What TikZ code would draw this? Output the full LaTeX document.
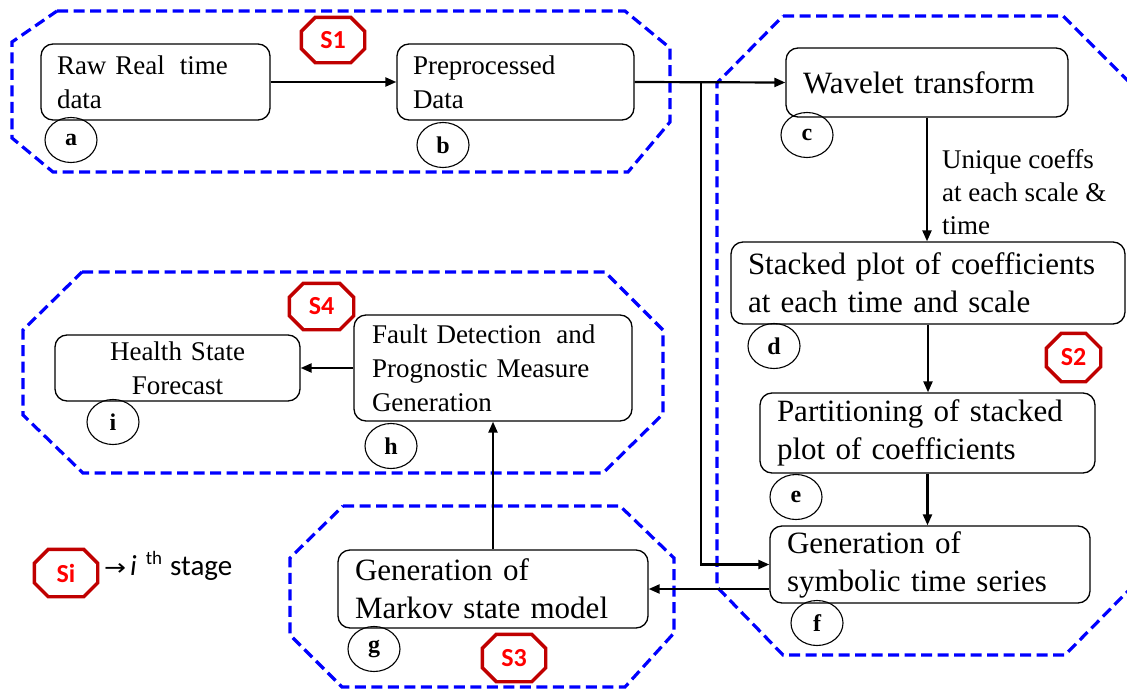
\documentclass[tikz,border=0pt]{standalone}
\usepackage{fontspec}
\usepackage{graphicx}
\setmainfont{Liberation Serif}
\newfontfamily\calibri{Carlito}
\newfontfamily\arrowfont{DejaVu Sans}
\usetikzlibrary{arrows.meta,calc,shapes.geometric}

\definecolor{groupblue}{RGB}{0,0,255}
\definecolor{badgered}{RGB}{192,0,0}
\definecolor{badgetext}{RGB}{255,0,0}

% stage badge: name, x, y, width, height, label, chamfer
\newcommand\stagebadge[7]{%
  \node[badge, minimum width=#4pt, minimum height=#5pt] (#1) at (#2,#3) {#6};
  \draw[badgeline]
    ($(#1.north west)+(#7,0)$) -- ($(#1.north east)+(-#7,0)$) --
    ($(#1.north east)+(0,#7)$) -- ($(#1.south east)+(0,-#7)$) --
    ($(#1.south east)+(-#7,0)$) -- ($(#1.south west)+(#7,0)$) --
    ($(#1.south west)+(0,-#7)$) -- ($(#1.north west)+(0,#7)$) -- cycle;
}

\begin{document}
\begin{tikzpicture}[x=1pt,y=-1pt,
  group/.style={draw=groupblue, line width=3.2pt, dash pattern=on 11pt off 5.5pt, line join=miter},
  box/.style={draw, line width=1.3pt, rounded corners=12pt, inner ysep=0pt, align=left},
  smalltext/.style={font=\fontsize{27}{34}\selectfont},
  bigtext/.style={font=\fontsize{31}{38}\selectfont},
  tag/.style={draw, ellipse, line width=1.1pt, minimum width=52pt, minimum height=45pt,
              inner sep=0pt, font=\fontsize{24}{24}\selectfont\bfseries},
  flow/.style={line width=2.2pt, -{Triangle[length=11pt,width=9pt]}},
  badge/.style={font=\calibri\bfseries\fontsize{26}{26}\selectfont, text=badgetext, inner sep=0pt},
  badgeline/.style={draw=badgered, line width=3.4pt, line join=miter},
]
\useasboundingbox (0,0) rectangle (1127,688);

% stage groups
\draw[group] (57,11) -- (625,11) -- (670,48) -- (670,122) -- (628,172) -- (53,172) -- (12,138) -- (12,42) -- cycle;
\draw[group] (783,16) -- (1063,16) -- (1129,82) -- (1129,590) -- (1065,655) -- (783,655) -- (717,587) -- (717,83) -- cycle;
\draw[group] (82,272) -- (605,272) -- (663,330) -- (663,414) -- (603,473) -- (83,473) -- (23,415) -- (23,330) -- cycle;
\draw[group] (343,506) -- (620,506) -- (674,558) -- (674,633) -- (625,687) -- (342,687) -- (290,635) -- (290,558) -- cycle;

% process boxes
\node[box, smalltext, minimum height=76pt, text width=197pt, inner xsep=16pt] (a) at (155.5,82) {Raw Real\hspace{6pt} time\\data};
\node[box, smalltext, minimum height=76pt, text width=205pt, inner xsep=16pt] (b) at (515.5,82) {Preprocessed\\Data};
\node[box, bigtext, minimum height=69pt, text width=248pt, inner xsep=17pt] (c) at (927,82.5) {Wavelet transform};
\node[box, bigtext, minimum height=82pt, text width=360pt, inner xsep=17pt] (d) at (928,283) {Stacked plot of coefficients\\at each time and scale};
\node[box, bigtext, minimum height=80pt, text width=301pt, inner xsep=17pt] (e) at (927.5,433) {Partitioning of stacked\\plot of coefficients};
\node[box, bigtext, minimum height=77pt, text width=286pt, inner xsep=17pt] (f) at (930,564.5) {Generation of\\symbolic time series};
\node[box, bigtext, minimum height=78pt, text width=276pt, inner xsep=17pt] (g) at (493,589) {Generation of\\Markov state model};
\node[box, smalltext, minimum height=106pt, text width=242pt, inner xsep=18pt] (h) at (493,368) {Fault Detection\hspace{6pt} and\\Prognostic Measure\\Generation};
\node[box, smalltext, minimum height=66pt, text width=213pt, inner xsep=16pt, align=center] (i) at (177.5,368) {Health State\\Forecast};

% box letters
\node[tag] (ta) at (71,140) {a};
\node[tag] (tb) at (443,145) {b};
\node[tag] (tc) at (807,135) {c};
\node[tag] (td) at (774,346) {d};
\node[tag] (te) at (796,497) {e};
\node[tag] (tf) at (817,623) {f};
\node[tag] (tg) at (374,649) {g};
\node[tag] (th) at (391,446) {h};
\node[tag] (ti) at (113,422) {i};

% connectors
\coordinate (split) at (701,0 |- b.east);
\draw[flow] (a.east) -- (b.west);
\draw[flow] (b.east) -- (c.west);
\draw[flow] (split) |- (f.west);
\draw[flow] (c.south) -- (c.south |- d.north)
  node[pos=0.6, anchor=west, xshift=14pt, inner sep=0pt, align=left,
       font=\fontsize{27}{33}\selectfont] (coefnote) {Unique coeffs\\at each scale \&\\time};
\draw[flow] (d.south) -- (d.south |- e.north);
\draw[flow] (e.south) -- (e.south |- f.north);
\draw[flow] (f.west |- g.east) -- (g.east);
\draw[flow] (g.north) -- (h.south);
\draw[flow] (h.west) -- (i.east);

% stage badges
\stagebadge{s1}{333}{40}{63}{45}{S1}{14}
\stagebadge{s2}{1073.5}{357.5}{54}{48}{S2}{15}
\stagebadge{s3}{514}{658}{63}{47}{S3}{14}
\stagebadge{s4}{321.5}{306.5}{64}{46}{S4}{14}
\stagebadge{si}{66}{573}{63}{47}{Si}{14}

% legend
\node[anchor=base west, inner sep=0pt, font=\calibri\fontsize{29}{29}\selectfont] (stagenote) at (104,575)
  {\resizebox{22pt}{12pt}{\arrowfont →}\hspace{4pt}\textit{i}\hspace{9pt}\raisebox{11pt}{\fontsize{19}{19}\selectfont th}\hspace{8pt}stage};
\end{tikzpicture}
\end{document}
